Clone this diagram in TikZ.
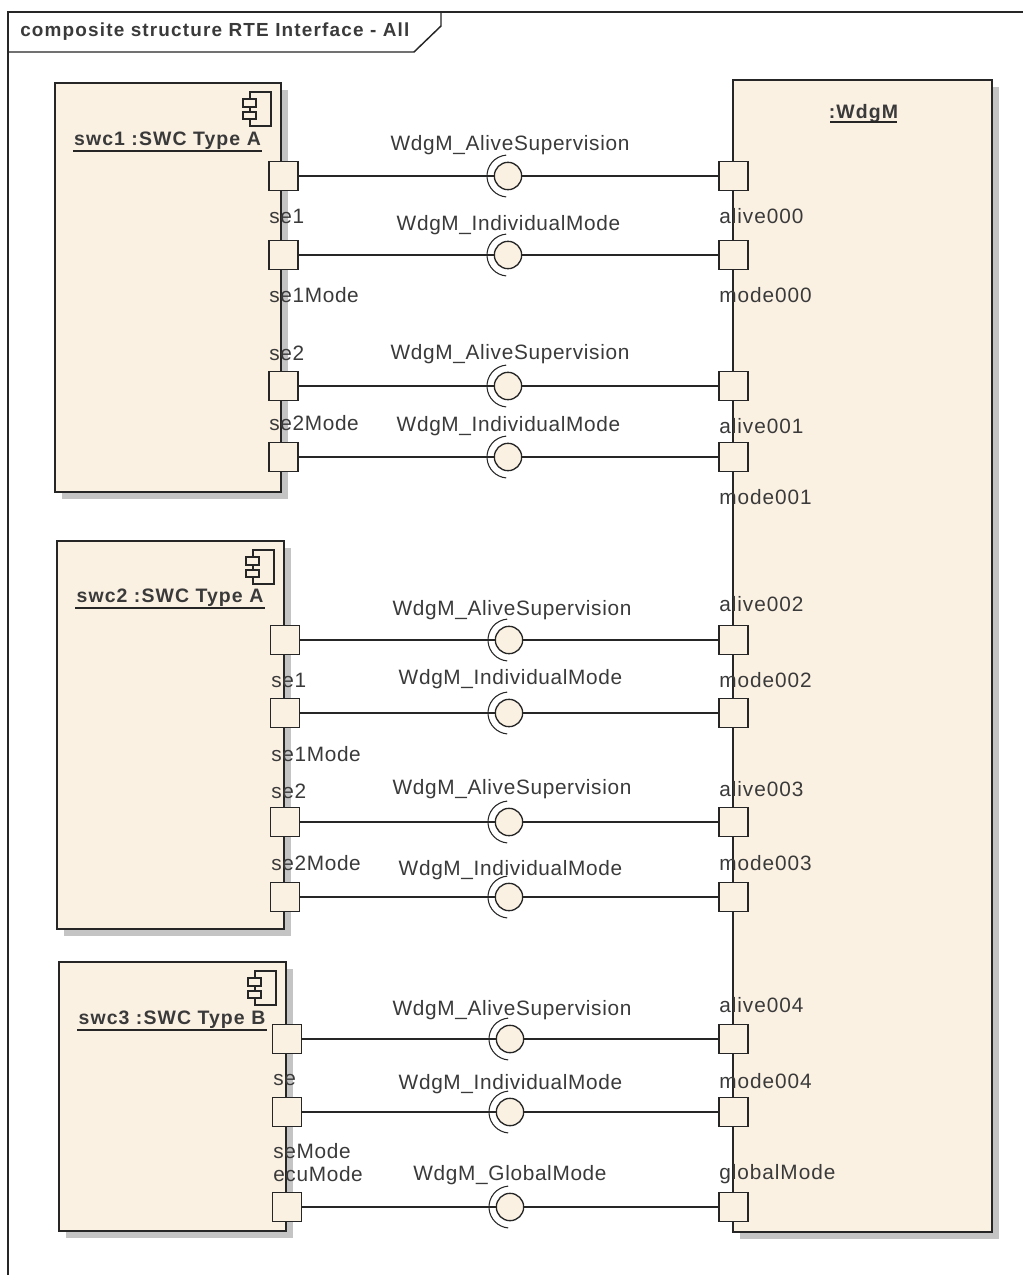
\documentclass[tikz,border=0pt]{standalone}
\usepackage{fontspec}
\setmainfont{Liberation Sans}
\newfontfamily\lblface[LetterSpace=3.2]{Liberation Sans}
\newfontfamily\rlblface[LetterSpace=4.6]{Liberation Sans}
\newfontfamily\ttlface[LetterSpace=5.5]{Liberation Sans}
\newfontfamily\frmface[LetterSpace=6.2]{Liberation Sans}
\definecolor{compfill}{HTML}{FBF1E3}
\definecolor{shade}{HTML}{C4C4C4}
\definecolor{ink}{HTML}{262626}
\definecolor{txt}{HTML}{3A3A3A}
\newcommand{\lblfont}{\lblface\fontsize{15.6pt}{17pt}\selectfont}
\newcommand{\rlblfont}{\rlblface\fontsize{15.6pt}{17pt}\selectfont}
\newcommand{\ttlfont}{\ttlface\fontsize{14.6pt}{17pt}\selectfont\bfseries}
\tikzset{
  x=0.75pt,y=-0.75pt,
  comp/.style={draw=ink,fill=compfill,line width=1.2pt,inner sep=0pt,outer sep=0pt,anchor=north west},
  compshadow/.style={fill=shade,draw=none},
  portbox/.style={draw=ink,fill=compfill,line width=1.2pt,inner sep=0pt,outer sep=0pt,minimum width=21.75pt,minimum height=21.75pt},
  ball/.style={circle,draw=ink,fill=compfill,line width=1pt,inner sep=0pt,outer sep=0pt,minimum size=20.5pt},
  socket/.style={draw=ink,line width=0.8pt},
  conn/.style={draw=ink,line width=1.1pt},
  ifacelabel/.style={text=txt,font=\lblfont,inner sep=0pt,anchor=center},
  portlabel/.style={text=txt,font=\lblfont,inner sep=0pt,anchor=west},
  rportlabel/.style={text=txt,font=\rlblfont,inner sep=0pt,anchor=west},
  title/.style={text=txt,font=\ttlfont,inner sep=0pt,anchor=center},
  framestyle/.style={draw=ink,line width=1.1pt},
  icon/.style={draw=ink,line width=0.9pt,fill=compfill},
}
% \link{id}{left port x}{right port x}{ball x}{y}{label y}{label x}{label}
\newcommand{\link}[8]{%
  \node[portbox] (pl#1) at (#2,#5) {};
  \node[portbox] (pr#1) at (#3,#5) {};
  \node[ball] (b#1) at (#4,#5) {};
  \draw[conn] (pl#1.east) -- (b#1.west);
  \draw[conn] (b#1.east) -- (pr#1.west);
  \draw[socket] ([shift={(95:15.75pt)}]b#1.center) arc[start angle=95,end angle=265,radius=15.75pt];
  \node[ifacelabel] (t#1) at (#7,#6) {#8};
}
% \usym{x of box right}{y of box top}
\newcommand{\usym}[2]{%
  \draw[icon] (#1-31,#2+9) rectangle (#1-10,#2+43);
  \draw[icon] (#1-38,#2+16) rectangle (#1-25,#2+24);
  \draw[icon] (#1-38,#2+29) rectangle (#1-25,#2+36);
}
\begin{document}
\begin{tikzpicture}
\useasboundingbox (0,0) rectangle (1023,1275);
\fill[white] (0,0) rectangle (1023,1275);
% frame
\coordinate (fbl) at (8,1275);
\coordinate (ftl) at (8,12);
\coordinate (ftr) at (1023,12);
\draw[framestyle] (fbl) -- (ftl) -- (ftr);
\draw[framestyle] (8,52) -- (414,52) -- (441,26) -- (441,12);
\node[text=txt,font=\frmface\fontsize{14.2pt}{17pt}\selectfont\bfseries,inner sep=0pt,anchor=west] (frametitle) at (20,31.5) {composite structure RTE Interface - All};
% shadows
\fill[compshadow] (62,90) rectangle (288,499);
\fill[compshadow] (64,548) rectangle (291,936);
\fill[compshadow] (66,969) rectangle (293,1238);
\fill[compshadow] (740,87) rectangle (999,1239);
% components
\node[comp,minimum width=169.5pt,minimum height=306.75pt] (swc1) at (55,83) {};
\node[comp,minimum width=170.25pt,minimum height=291pt] (swc2) at (57,541) {};
\node[comp,minimum width=170.25pt,minimum height=201.75pt] (swc3) at (59,962) {};
\node[comp,minimum width=194.25pt,minimum height=864pt] (wdgm) at (733,80) {};
\usym{281}{83}
\usym{284}{541}
\usym{286}{962}
\node[title] (tswc1) at (167.5,140.5) {swc1 :SWC Type A};
\draw[ink,line width=1.1pt] (73,151) -- (262,151);
\node[title] (tswc2) at (170,597.5) {swc2 :SWC Type A};
\draw[ink,line width=1.1pt] (75,608) -- (265,608);
\node[title] (tswc3) at (172,1019.5) {swc3 :SWC Type B};
\draw[ink,line width=1.1pt] (77,1030) -- (267,1030);
\node[title] (twdgm) at (863.5,113.5) {:WdgM};
\draw[ink,line width=1.1pt] (830,122) -- (897,122);
% links
\link{a}{283.5}{733.5}{508}{176}{145}{510}{WdgM\_AliveSupervision}
\link{b}{283.5}{733.5}{508}{255}{225}{508.5}{WdgM\_IndividualMode}
\link{c}{283.5}{733.5}{508}{386}{354}{510}{WdgM\_AliveSupervision}
\link{d}{283.5}{733.5}{508}{457}{426}{508.5}{WdgM\_IndividualMode}
\link{e}{285}{733.5}{509}{640}{610}{512}{WdgM\_AliveSupervision}
\link{f}{285}{733.5}{509}{713}{679}{510.5}{WdgM\_IndividualMode}
\link{g}{285}{733.5}{509}{822}{789}{512}{WdgM\_AliveSupervision}
\link{h}{285}{733.5}{509}{897}{870}{510.5}{WdgM\_IndividualMode}
\link{i}{287}{733.5}{510}{1039}{1010}{512}{WdgM\_AliveSupervision}
\link{j}{287}{733.5}{510}{1112}{1084}{510.5}{WdgM\_IndividualMode}
\link{k}{287}{733.5}{510}{1207}{1175}{510}{WdgM\_GlobalMode}
% port labels, left
\node[portlabel] at (269,216) {se1};
\node[portlabel] at (269,295) {se1Mode};
\node[portlabel] at (269,353) {se2};
\node[portlabel] at (269,423) {se2Mode};
\node[portlabel] at (271,680) {se1};
\node[portlabel] at (271,754) {se1Mode};
\node[portlabel] at (271,791) {se2};
\node[portlabel] at (271,863) {se2Mode};
\node[portlabel] at (273,1080) {se};
\node[portlabel] at (273,1151) {seMode};
\node[portlabel] at (273,1174) {ecuMode};
% port labels, right
\node[rportlabel] at (719,216) {alive000};
\node[rportlabel] at (719,295) {mode000};
\node[rportlabel] at (719,426) {alive001};
\node[rportlabel] at (719,497) {mode001};
\node[rportlabel] at (719,604) {alive002};
\node[rportlabel] at (719,680) {mode002};
\node[rportlabel] at (719,789) {alive003};
\node[rportlabel] at (719,863) {mode003};
\node[rportlabel] at (719,1005) {alive004};
\node[rportlabel] at (719,1081) {mode004};
\node[rportlabel] at (719,1174) {globalMode};
\end{tikzpicture}
\end{document}
